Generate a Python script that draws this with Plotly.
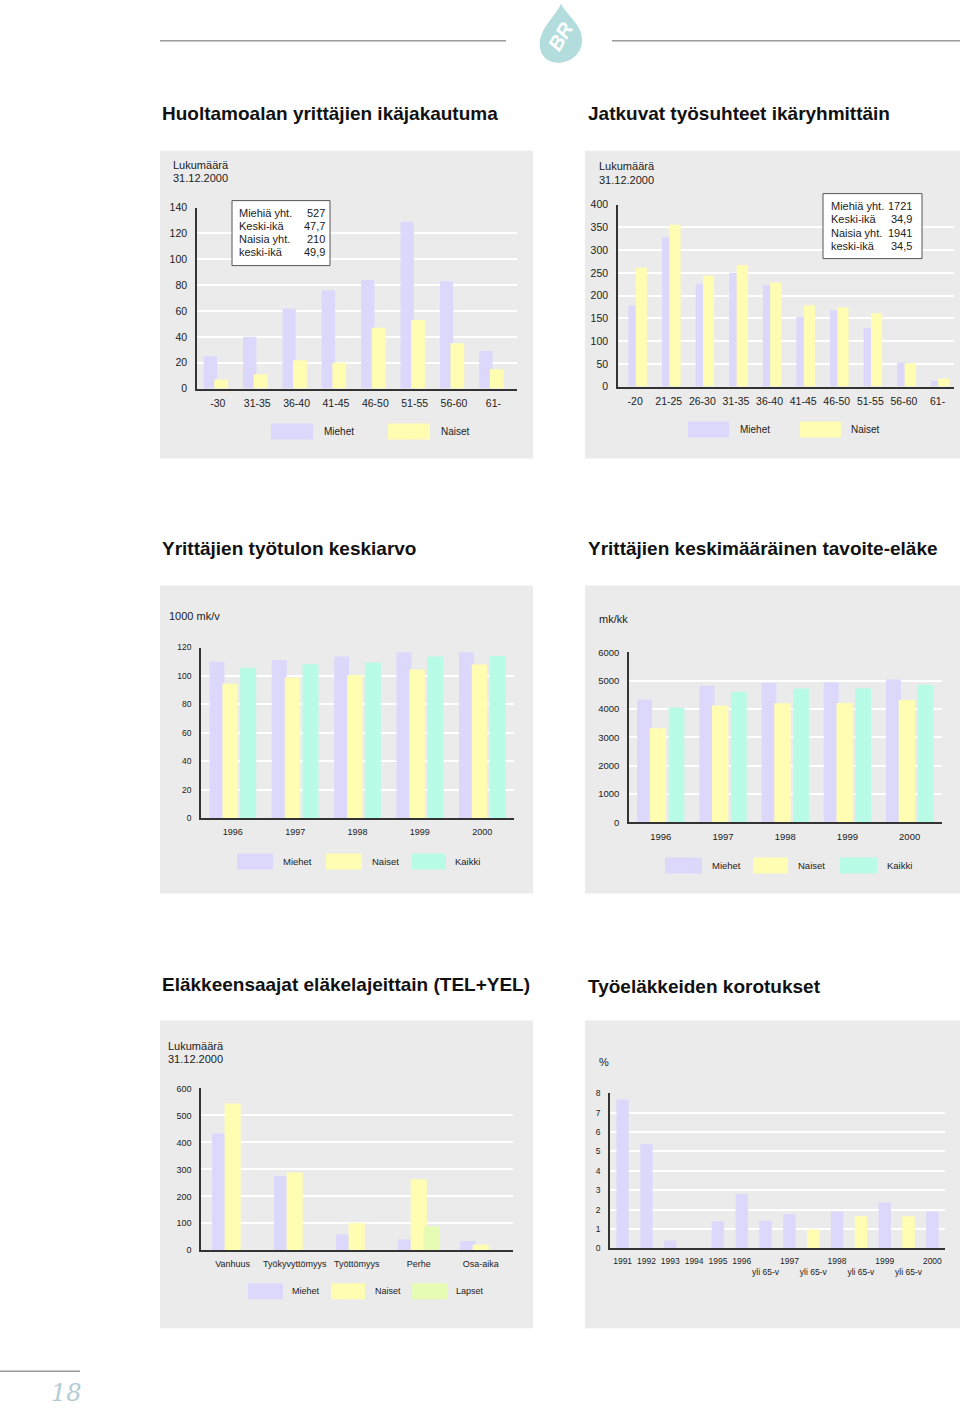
import plotly.graph_objects as go

W, H = 960, 1408
FONT = "Liberation Sans"
LAV = "#dcd8fb"
YEL = "#fffdb2"
MINT = "#b8fbe6"
LIME = "#e6fcb4"
PANEL = "#ebebeb"
INK = "#222222"

# --- data -------------------------------------------------------------
ages1 = ["-30", "31-35", "36-40", "41-45", "46-50", "51-55", "56-60", "61-"]
men1 = [25, 40, 62, 76, 84, 129, 83, 29]
women1 = [7, 11, 22, 20, 47, 53, 35, 15]
box1_labels = ["Miehiä yht.", "Keski-ikä", "Naisia yht.", "keski-ikä"]
box1_values = ["527", "47,7", "210", "49,9"]

ages2 = ["-20", "21-25", "26-30", "31-35", "36-40", "41-45", "46-50", "51-55", "56-60", "61-"]
men2 = [179, 328, 226, 250, 223, 153, 168, 129, 53, 13]
women2 = [261, 356, 244, 267, 229, 179, 174, 161, 51, 17]
box2_labels = ["Miehiä yht.", "Keski-ikä", "Naisia yht.", "keski-ikä"]
box2_values = ["1721", "34,9", "1941", "34,5"]

years3 = ["1996", "1997", "1998", "1999", "2000"]
men3 = [110, 111.3, 113.7, 116.7, 116.7]
women3 = [94.6, 98.9, 100.5, 104.5, 108]
all3 = [105.7, 108.3, 109.4, 113.7, 114.1]

years4 = ["1996", "1997", "1998", "1999", "2000"]
men4 = [4340, 4830, 4920, 4945, 5050]
women4 = [3330, 4125, 4205, 4220, 4325]
all4 = [4055, 4615, 4725, 4735, 4865]

types5 = ["Vanhuus", "Työkyvyttömyys", "Työttömyys", "Perhe", "Osa-aika"]
men5 = [433, 275, 59, 40, 35]
women5 = [544, 288, 101, 263, 21]
kids5 = [0, 0, 0, 88, 0]

cats6 = ["1991", "1992", "1993", "1994", "1995", "1996", "1996 yli 65-v", "1997",
         "1997 yli 65-v", "1998", "1998 yli 65-v", "1999", "1999 yli 65-v", "2000"]
ticks6 = ["1991", "1992", "1993", "1994", "1995", "1996", " <br>yli 65-v", "1997",
          " <br>yli 65-v", "1998", " <br>yli 65-v", "1999", " <br>yli 65-v", "2000"]
pct6 = [7.69, 5.39, 0.40, 0, 1.40, 2.80, 1.43, 1.76, 0.97, 1.90, 1.66, 2.37, 1.66, 1.90]
col6 = [LAV, LAV, LAV, LAV, LAV, LAV, LAV, LAV, YEL, LAV, YEL, LAV, YEL, LAV]


def px(x):
    return x / W


def py(y):
    # the photographed page comes out slightly squashed vertically, so pre-stretch
    return 1 - ((y - 5.33) / 0.99174) / H


fig = go.Figure()
shapes = []
annotations = []


def text(x, y, s, size=11, color=INK, xanchor="left", **kw):
    annotations.append(dict(x=px(x), y=py(y), xref="paper", yref="paper", text=s,
                            showarrow=False, xanchor=xanchor, yanchor="middle",
                            font=dict(family=FONT, size=size, color=color), **kw))


def title(x, y, s):
    text(x, y, "<b>" + s + "</b>", size=19, color="#111")


def rect(x0, y0, x1, y1, fill, line=None, layer="below"):
    shapes.append(dict(type="rect", xref="paper", yref="paper", x0=px(x0), x1=px(x1),
                       y0=py(y1), y1=py(y0), fillcolor=fill, layer=layer,
                       line=dict(width=1 if line else 0, color=line or fill)))


def setup_axes(n, x0, x1, y0, y1, xrange, yrange, dtick, fs_x, fs_y, ticktext=None, cats=None):
    k = "" if n == 1 else str(n)
    xa = dict(domain=[px(x0), px(x1)], anchor="y" + k, type="category", range=xrange,
              showline=True, linecolor="#333", linewidth=1.5, showgrid=False, ticks="",
              tickangle=0, ticklabelstandoff=4,
              tickfont=dict(family=FONT, size=fs_x, color=INK))
    if ticktext:
        xa.update(tickmode="array", tickvals=cats, ticktext=ticktext)
    ya = dict(domain=[py(y1), py(y0)], anchor="x" + k, range=yrange, dtick=dtick,
              showline=True, linecolor="#333", linewidth=1.5, showgrid=True,
              gridcolor="white", gridwidth=2, zeroline=False, ticks="",
              ticklabelstandoff=6, tickfont=dict(family=FONT, size=fs_y, color=INK))
    fig.layout["xaxis" + k] = xa
    fig.layout["yaxis" + k] = ya
    return "x" + k, "y" + k


def bars(xa, ya, cats, vals, color, offset, width):
    fig.add_trace(go.Bar(x=cats, y=vals, marker=dict(color=color, line=dict(width=0)),
                         offset=offset, width=width, xaxis=xa, yaxis=ya, showlegend=False))


def legend(y, items, size):
    for (x0, x1, tx, name, color) in items:
        rect(x0, y - 8, x1, y + 8, color, layer="above")
        text(tx, y, name, size=size)


# --- panels -------------------------------------------------------------
for (x0, y0, x1, y1) in [(160, 150, 533, 458), (585, 150, 960, 458),
                         (160, 585, 533, 893), (585, 585, 960, 893),
                         (160, 1020, 533, 1328), (585, 1020, 960, 1328)]:
    rect(x0, y0, x1, y1, PANEL)

# chart 1
xa, ya = setup_axes(1, 197, 517, 207, 388, [-0.53, 7.6], [0, 140], 20, 10.5, 10.5)
bars(xa, ya, ages1, men1, LAV, -0.36, 0.34)
bars(xa, ya, ages1, women1, YEL, -0.09, 0.35)
rect(232, 200, 330, 265, "white", line="#555", layer="above")
for i, (lab, val) in enumerate(zip(box1_labels, box1_values)):
    text(237, 212 + 13 * i, lab)
    text(327, 212 + 13 * i, val, xanchor="right")
title(160, 113, "Huoltamoalan yrittäjien ikäjakautuma")
text(171, 164, "Lukumäärä")
text(171, 177, "31.12.2000")
legend(431, [(271, 313, 322, "Miehet", LAV), (388, 430, 439, "Naiset", YEL)], 10)

# chart 2
xa, ya = setup_axes(2, 618, 954, 204, 386, [-0.51, 9.49], [0, 400], 50, 10.5, 10.5)
bars(xa, ya, ages2, men2, LAV, -0.2, 0.32)
bars(xa, ya, ages2, women2, YEL, 0.02, 0.33)
rect(823, 193, 922, 258, "white", line="#555", layer="above")
for i, (lab, val) in enumerate(zip(box2_labels, box2_values)):
    text(829, 205 + 13.5 * i, lab)
    text(914, 205 + 13.5 * i, val, xanchor="right")
title(586, 113, "Jatkuvat työsuhteet ikäryhmittäin")
text(597, 165, "Lukumäärä")
text(597, 179, "31.12.2000")
legend(429, [(688, 729, 738, "Miehet", LAV), (800, 841, 849, "Naiset", YEL)], 10)

# chart 3
xa, ya = setup_axes(3, 201, 514, 647, 818, [-0.51, 4.51], [0, 120], 20, 9, 8.5)
bars(xa, ya, years3, men3, LAV, -0.374, 0.24)
bars(xa, ya, years3, women3, YEL, -0.166, 0.246)
bars(xa, ya, years3, all3, MINT, 0.118, 0.256)
title(160, 548, "Yrittäjien työtulon keskiarvo")
text(167, 615, "1000 mk/v")
legend(861, [(237, 273, 281, "Miehet", LAV), (326, 362, 370, "Naiset", YEL),
             (412, 446, 453, "Kaikki", MINT)], 9.5)

# chart 4
xa, ya = setup_axes(4, 629, 942, 652, 822, [-0.51, 4.52], [0, 6000], 1000, 9.5, 9.5)
bars(xa, ya, years4, men4, LAV, -0.38, 0.24)
bars(xa, ya, years4, women4, YEL, -0.176, 0.262)
bars(xa, ya, years4, all4, MINT, 0.128, 0.252)
title(586, 548, "Yrittäjien keskimääräinen tavoite-eläke")
text(597, 618, "mk/kk")
legend(865, [(665, 702, 710, "Miehet", LAV), (753, 788, 796, "Naiset", YEL),
             (840, 877, 885, "Kaikki", MINT)], 9.5)

# chart 5
xa, ya = setup_axes(5, 201, 513, 1088, 1250, [-0.51, 4.52], [0, 600], 100, 9, 9)
bars(xa, ya, types5, men5, LAV, -0.333, 0.247)
bars(xa, ya, types5, women5, YEL, -0.13, 0.26)
bars(xa, ya, types5, kids5, LIME, 0.08, 0.26)
title(160, 984, "Eläkkeensaajat eläkelajeittain (TEL+YEL)")
text(166, 1046, "Lukumäärä")
text(166, 1059, "31.12.2000")
legend(1291, [(248, 283, 290, "Miehet", LAV), (331, 365, 373, "Naiset", YEL),
              (412, 447, 454, "Lapset", LIME)], 9)

# chart 6
xa, ya = setup_axes(6, 610, 945, 1093, 1248, [-0.53, 13.53], [0, 8], 1, 8.5, 8.5,
                    ticktext=ticks6, cats=cats6)
fig.add_trace(go.Bar(x=cats6, y=pct6, marker=dict(color=col6, line=dict(width=0)),
                     width=0.52, xaxis=xa, yaxis=ya, showlegend=False))
title(586, 986, "Työeläkkeiden korotukset")
text(597, 1062, "%")

# --- page decoration ----------------------------------------------------
for (x0, x1) in [(160, 506), (612, 960)]:
    shapes.append(dict(type="line", xref="paper", yref="paper", x0=px(x0), x1=px(x1),
                       y0=py(40), y1=py(40), line=dict(color="#9a9a9a", width=1.5)))
shapes.append(dict(type="line", xref="paper", yref="paper", x0=0, x1=px(80),
                   y0=py(1371), y1=py(1371), line=dict(color="#9a9a9a", width=1.5)))
drop = [(561, 3), (567, 15), (584, 25), (582, 42), (580, 56), (568, 62), (558, 62),
        (546, 62), (538, 52), (540, 40), (542, 25), (556, 15), (561, 3)]
d = "M {:.5f} {:.5f}".format(px(drop[0][0]), py(drop[0][1]))
for i in range(1, len(drop), 3):
    d += " C " + ", ".join("{:.5f} {:.5f}".format(px(a), py(b)) for a, b in drop[i:i + 3])
shapes.append(dict(type="path", xref="paper", yref="paper", path=d + " Z",
                   fillcolor="#b3dcdc", line=dict(width=0)))
text(560, 36, "<i><b>BR</b></i>", size=20, color="white", xanchor="center", textangle=-60)
annotations.append(dict(x=px(66), y=py(1393), xref="paper", yref="paper", text="<i>18</i>",
                        showarrow=False, xanchor="center", yanchor="middle",
                        font=dict(family="DejaVu Serif", size=24, color="#b3cbd3")))

fig.update_layout(
    width=W, height=H, margin=dict(l=0, r=0, t=0, b=0),
    paper_bgcolor="white", plot_bgcolor="rgba(0,0,0,0)",
    barmode="overlay", showlegend=False,
    shapes=shapes, annotations=annotations,
    font=dict(family=FONT, color=INK),
)

pin = ("document.body.style.margin = '0';"
       "var d = document.getElementById('{plot_id}');"
       "d.style.position = 'absolute'; d.style.top = '0'; d.style.left = '0';")
fig.write_html("out.html", config={"displayModeBar": False}, post_script=pin)
